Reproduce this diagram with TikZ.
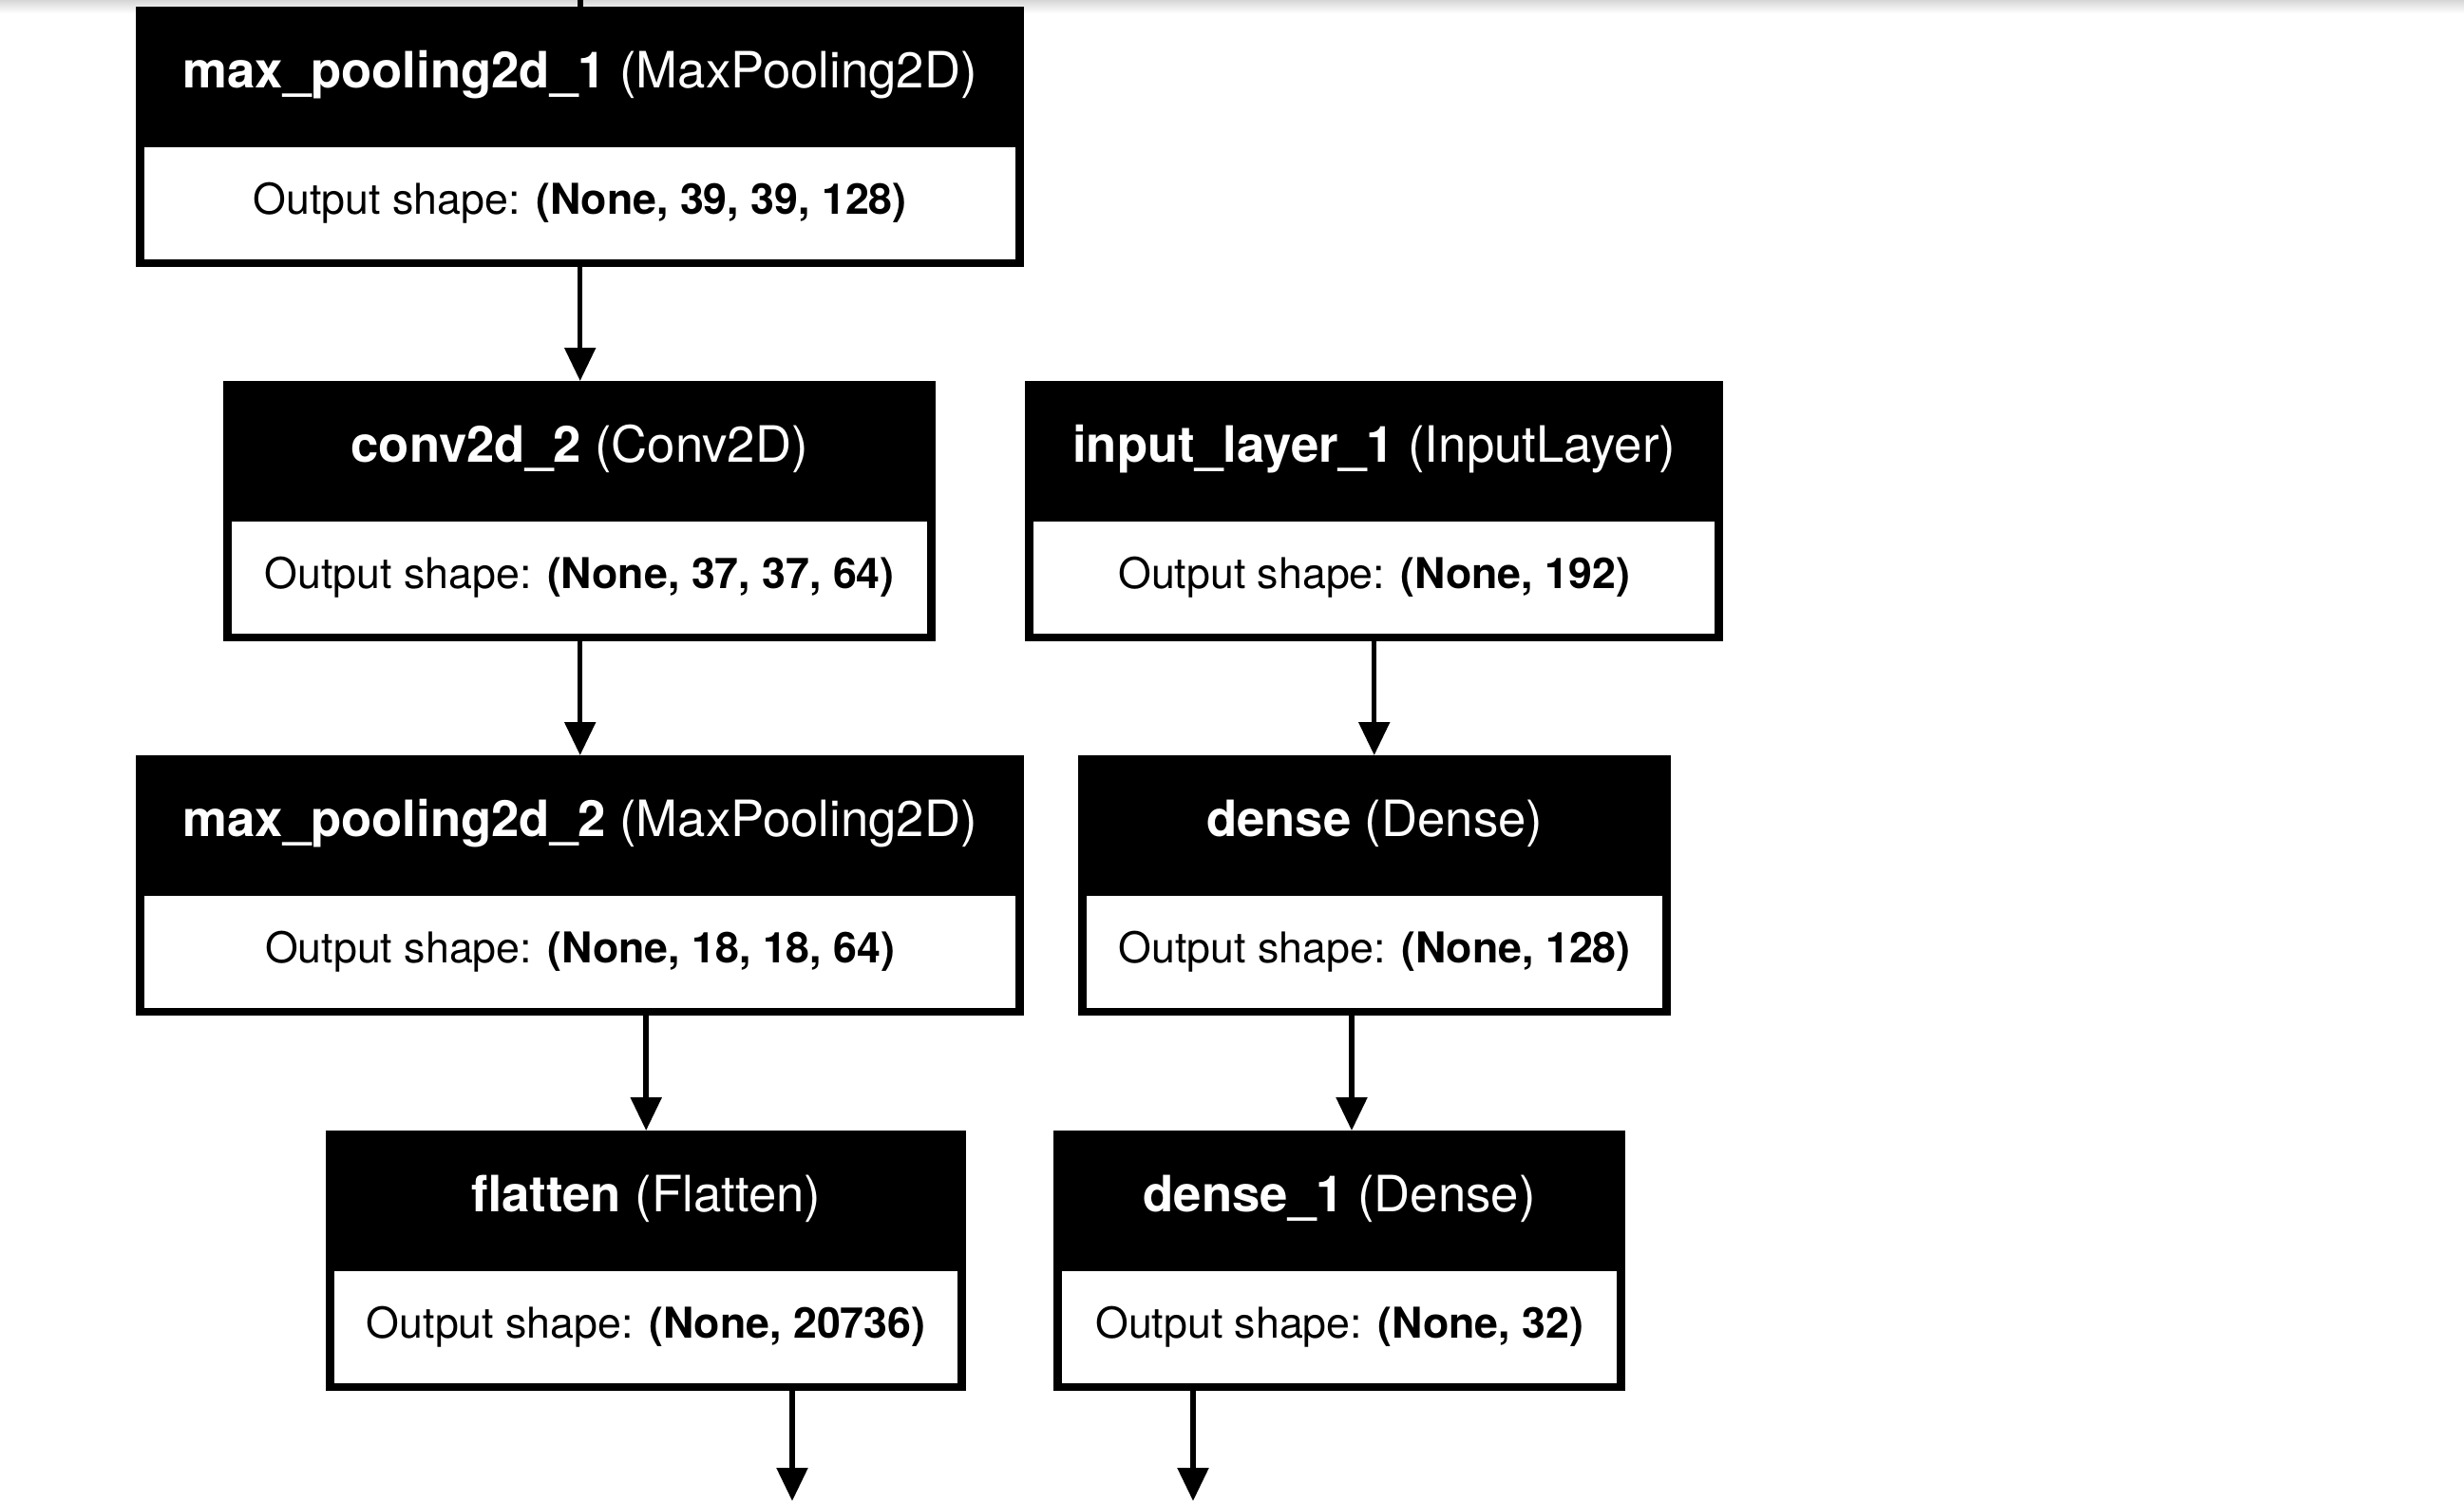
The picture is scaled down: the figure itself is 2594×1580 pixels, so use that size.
\documentclass[tikz,border=0pt]{standalone}
\usepackage{fontspec}
\setmainfont{TeX Gyre Heros}
\usetikzlibrary{arrows.meta}
\newcommand{\headfont}{\fontsize{52.7pt}{60pt}\selectfont}
\newcommand{\shapefont}{\fontsize{44.7pt}{52pt}\selectfont}
\tikzset{
  outerbox/.style={rectangle, fill=black, draw=none, inner sep=0pt, minimum height=274pt, anchor=north west},
  cellbox/.style={rectangle, fill=white, draw=none, inner sep=0pt, minimum height=118pt, anchor=north},
  headtxt/.style={text=white, font=\headfont, anchor=base, inner sep=0pt},
  shapetxt/.style={text=black, font=\shapefont, anchor=base, inner sep=0pt},
  arr/.style={line width=5.5pt, -{Triangle[length=35pt,width=32pt]}},
  plainline/.style={line width=5.5pt}
}
\begin{document}
\begin{tikzpicture}[x=1pt,y=-1pt]
\useasboundingbox (0,0) rectangle (2594,1580);
\fill[white] (0,0) rectangle (2594,1580);
\shade[top color=black!16, bottom color=white] (0,0) rectangle (2594,14);

% max_pooling2d_1
\node[outerbox, minimum width=935pt] (A) at (143,7) {};
\node[cellbox, minimum width=917pt] (Acell) at ([yshift=-148pt]A.north) {};
\node[headtxt] (Ahead) at ([yshift=-85pt]A.north) {\textbf{max\_pooling2d\_1} (MaxPooling2D)};
\node[shapetxt] (Ashape) at ([yshift=-218pt]A.north) {Output shape: \textbf{(None, 39, 39, 128)}};

% conv2d_2
\node[outerbox, minimum width=750pt] (B) at (235,401) {};
\node[cellbox, minimum width=732pt] (Bcell) at ([yshift=-148pt]B.north) {};
\node[headtxt] (Bhead) at ([yshift=-85pt]B.north) {\textbf{conv2d\_2} (Conv2D)};
\node[shapetxt] (Bshape) at ([yshift=-218pt]B.north) {Output shape: \textbf{(None, 37, 37, 64)}};

% input_layer_1
\node[outerbox, minimum width=735pt] (C) at (1079,401) {};
\node[cellbox, minimum width=717pt] (Ccell) at ([yshift=-148pt]C.north) {};
\node[headtxt] (Chead) at ([yshift=-85pt]C.north) {\textbf{input\_layer\_1} (InputLayer)};
\node[shapetxt] (Cshape) at ([yshift=-218pt]C.north) {Output shape: \textbf{(None, 192)}};

% max_pooling2d_2
\node[outerbox, minimum width=935pt] (D) at (143,795) {};
\node[cellbox, minimum width=917pt] (Dcell) at ([yshift=-148pt]D.north) {};
\node[headtxt] (Dhead) at ([yshift=-85pt]D.north) {\textbf{max\_pooling2d\_2} (MaxPooling2D)};
\node[shapetxt] (Dshape) at ([yshift=-218pt]D.north) {Output shape: \textbf{(None, 18, 18, 64)}};

% dense
\node[outerbox, minimum width=624pt] (E) at (1135,795) {};
\node[cellbox, minimum width=606pt] (Ecell) at ([yshift=-148pt]E.north) {};
\node[headtxt] (Ehead) at ([yshift=-85pt]E.north) {\textbf{dense} (Dense)};
\node[shapetxt] (Eshape) at ([yshift=-218pt]E.north) {Output shape: \textbf{(None, 128)}};

% flatten
\node[outerbox, minimum width=674pt] (F) at (343,1190) {};
\node[cellbox, minimum width=656pt] (Fcell) at ([yshift=-148pt]F.north) {};
\node[headtxt] (Fhead) at ([yshift=-85pt]F.north) {\textbf{flatten} (Flatten)};
\node[shapetxt] (Fshape) at ([yshift=-218pt]F.north) {Output shape: \textbf{(None, 20736)}};

% dense_1
\node[outerbox, minimum width=602pt] (G) at (1109,1190) {};
\node[cellbox, minimum width=584pt] (Gcell) at ([yshift=-148pt]G.north) {};
\node[headtxt] (Ghead) at ([yshift=-85pt]G.north) {\textbf{dense\_1} (Dense)};
\node[shapetxt] (Gshape) at ([yshift=-218pt]G.north) {Output shape: \textbf{(None, 32)}};

% connectors
\coordinate (topin) at (611,0);
\coordinate (Fend) at (834,1580);
\coordinate (Gend) at (1256,1580);
\coordinate (EGx) at (1423,0);
\draw[plainline] (topin) -- (topin |- A.north);
\draw[arr] (A.south) -- (A.south |- B.north);
\draw[arr] (B.south -| A.south) -- (D.north -| A.south);
\draw[arr] (C.south) -- (C.south |- E.north);
\draw[arr] (D.south -| F.north) -- (F.north);
\draw[arr] (E.south -| EGx) -- (G.north -| EGx);
\draw[arr] (F.south -| Fend) -- (Fend);
\draw[arr] (G.south -| Gend) -- (Gend);
\end{tikzpicture}
\end{document}
